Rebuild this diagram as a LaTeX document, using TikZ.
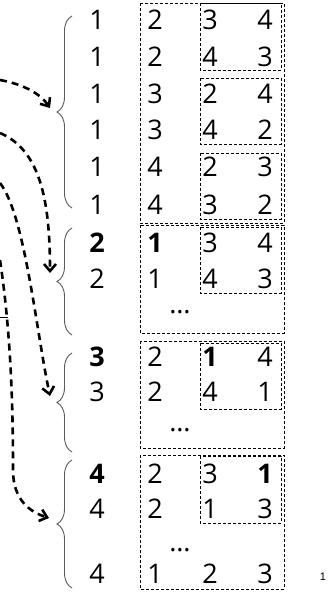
\documentclass[tikz,border=0pt]{standalone}
\usepackage{fontspec}
\setmainfont{Open Sans}
\newfontfamily\pgnum{Liberation Sans}
\usetikzlibrary{arrows.meta,decorations.pathreplacing}

\begin{document}
\begin{tikzpicture}[x=1pt, y=-1pt,
  num/.style={inner sep=0pt, font=\fontsize{27}{30}\selectfont},
  grp/.style={draw, line width=0.6pt, dash pattern=on 3pt off 2pt},
  brc/.style={draw=black!65, line width=0.9pt, decorate,
              decoration={brace, amplitude=15pt}},
  arr/.style={-{Straight Barb[length=7pt, width=12pt]}, line width=2.6pt,
              dash pattern=on 7pt off 5pt}]
\useasboundingbox (0,0) rectangle (327,593);
% dashed blocks: outer per first digit, inner for the last two columns
\foreach \t/\b in {3/223, 225/333, 341/448, 455/589}
  \draw[grp] (140,\t) rectangle (284,\b);
\foreach \t/\b in {3/70, 78/144, 153/219, 227/293, 343/409, 456/523}
  \draw[grp] (200,\t) rectangle (281,\b);
% permutation rows
\foreach \y/\a/\b/\c/\d [count=\i] in {
    20/1/2/3/4, 57/1/2/4/3, 94/1/3/2/4, 130/1/3/4/2, 167/1/4/2/3, 205/1/4/3/2,
    243/\textbf{2}/\textbf{1}/3/4, 279/2/1/4/3,
    357/\textbf{3}/2/\textbf{1}/4, 392/3/2/4/1,
    474/\textbf{4}/2/3/\textbf{1}, 509/4/2/1/3, 574/4/1/2/3} {
  \node[num] (r\i-1) at (97,\y) {\a};
  \node[num] (r\i-2) at (155,\y) {\b};
  \node[num] (r\i-3) at (210,\y) {\c};
  \node[num] (r\i-4) at (265,\y) {\d};
}
\node[num] (dots2) at (180,312) {…};
\node[num] (dots3) at (180,430) {…};
\node[num] (dots4) at (180,550) {…};
% braces
\draw[brc] (72,208) -- (72,16);
\draw[brc] (72,335) -- (72,228);
\draw[brc] (72,452) -- (72,353);
\draw[brc] (72,588) -- (72,460);
% arrows from the left
\coordinate (s1) at (0,80);  \coordinate (e1) at (50,108);
\coordinate (s2) at (0,133); \coordinate (e2) at (50,273);
\coordinate (s3) at (0,183); \coordinate (e3) at (50,396);
\coordinate (s4) at (0,260); \coordinate (e4) at (49,518);
\draw[arr] (s1) .. controls (22,84) and (40,93) .. (e1);
\draw[arr] (s2) .. controls (40,150) and (50,200) .. (e2);
\draw[arr] (s3) .. controls (25,215) and (36,330) .. (e3);
\draw[arr] (s4) .. controls (12,340) and (13,420) .. (13,470)
                .. controls (13,500) and (30,512) .. (e4);
\coordinate (tick) at (8,317);
\draw[line width=0.8pt] (tick) -- ++(-8,0);
\node[inner sep=0pt, font=\pgnum\fontsize{11}{12}\selectfont] (page) at (323,577) {1};
\end{tikzpicture}
\end{document}
